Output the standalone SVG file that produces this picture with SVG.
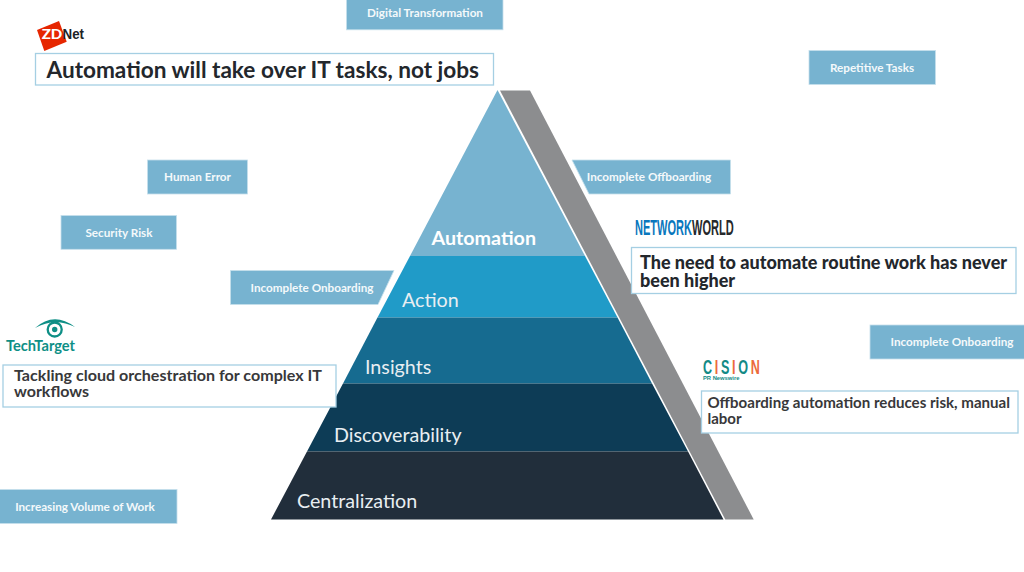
<svg xmlns="http://www.w3.org/2000/svg" width="1024" height="572" viewBox="0 0 1024 572">
<style>
.tag{fill:#77b3d0;stroke:#c5dfeb;stroke-width:.8}
.tagt{font-family:"Lato","Liberation Sans",sans-serif;font-weight:700;font-size:11.7px;fill:#f4f9fb;text-anchor:middle}
.box{fill:#fff;stroke:#a5cfe3;stroke-width:1.3}
.head{font-family:"Lato","Liberation Sans",sans-serif;font-weight:700;fill:#23272c}
.lvl{font-family:"Lato","Liberation Sans",sans-serif;font-size:19.7px;fill:#e8eef2}
</style>
<rect width="1024" height="572" fill="#fff"/>
<g id="pyramid">
<polygon points="500,90.5 530,90.5 753.7,519.5 725.3,519.5" fill="#8c8d8f"/>
<g id="level-automation"><polygon points="497.5,90 585,256 410,256" fill="#77b3d0"/><text x="431.5" y="245" class="lvl" style="font-weight:700;fill:#fff">Automation</text></g>
<g id="level-action"><polygon points="410,256 585,256 617.5,317.5 377.5,317.5" fill="#209bc8"/><text x="402" y="307" class="lvl">Action</text></g>
<g id="level-insights"><polygon points="377.5,317.5 617.5,317.5 652,383.5 343,383.5" fill="#166b90"/><text x="365" y="374.3" class="lvl">Insights</text></g>
<g id="level-discoverability"><polygon points="343,383.5 652,383.5 688,451.5 307,451.5" fill="#0d3c56"/><text x="334" y="442.3" class="lvl">Discoverability</text></g>
<g id="level-centralization"><polygon points="307,451.5 688,451.5 723.5,519.5 271,519.5" fill="#212e3b"/><text x="297" y="507.7" class="lvl">Centralization</text></g>
</g>
<g id="tag-digital-transformation"><rect class="tag" x="346.5" y="-2" width="156.5" height="31.8"/><text class="tagt" x="425" y="17">Digital Transformation</text></g>
<g id="tag-repetitive-tasks"><rect class="tag" x="809" y="50.5" width="126.5" height="34"/><text class="tagt" x="872" y="71.5">Repetitive Tasks</text></g>
<g id="tag-human-error"><rect class="tag" x="147.5" y="160" width="100" height="34"/><text class="tagt" x="197.5" y="181">Human Error</text></g>
<g id="tag-security-risk"><rect class="tag" x="61" y="215.5" width="115.5" height="33.8"/><text class="tagt" x="119" y="236.5">Security Risk</text></g>
<g id="tag-incomplete-onboarding-left"><polygon class="tag" points="230.5,270.5 394,270.5 378,304.5 230.5,304.5"/><text class="tagt" x="312" y="291.5">Incomplete Onboarding</text></g>
<g id="tag-incomplete-offboarding"><polygon class="tag" points="572,160 730.5,160 730.5,194 589,194"/><text class="tagt" x="649" y="181">Incomplete Offboarding</text></g>
<g id="tag-incomplete-onboarding-right"><rect class="tag" x="870" y="325" width="156" height="34"/><text class="tagt" x="952" y="346">Incomplete Onboarding</text></g>
<g id="tag-increasing-volume"><rect class="tag" x="-2" y="489.5" width="179" height="34"/><text class="tagt" x="85" y="510.5">Increasing Volume of Work</text></g>
<g id="card-zdnet">
<polygon points="37,30 59,21 66.7,41.7 44.3,51" fill="#e62600"/>
<text x="41.7" y="39" textLength="20.6" lengthAdjust="spacingAndGlyphs" style="font-family:'Lato',sans-serif;font-weight:900;font-size:14px;fill:#fff">ZD</text>
<text x="62.5" y="39.3" textLength="21.5" lengthAdjust="spacingAndGlyphs" style="font-family:'Liberation Sans',sans-serif;font-weight:700;font-size:15px;fill:#1d2226">Net</text>
<rect class="box" x="35.5" y="53.5" width="458" height="31.5"/>
<text class="head" x="46.5" y="78" textLength="432.5" lengthAdjust="spacingAndGlyphs" style="font-size:22.5px">Automation will take over IT tasks, not jobs</text>
</g>
<g id="card-networkworld">
<text transform="translate(635 235) scale(.502 1)" style="font-family:'Liberation Sans',sans-serif;font-weight:700;font-size:22px"><tspan fill="#0a77bd">NETWORK</tspan><tspan fill="#25282b">WORLD</tspan></text>
<rect class="box" x="631.5" y="247.5" width="384.5" height="46"/>
<text class="head" x="640" y="268.7" style="font-size:18px;font-weight:900">The need to automate routine work has never</text>
<text class="head" x="640" y="286.7" style="font-size:18px;font-weight:900">been higher</text>
</g>
<g id="card-techtarget">
<path d="M35 328 Q54 311 75 327 Q55 317 35 328Z" fill="#0e8f86"/>
<circle cx="54.7" cy="329.5" r="7" fill="none" stroke="#0e8f86" stroke-width="2.3"/>
<circle cx="54.7" cy="329.5" r="2.7" fill="#0e8f86"/>
<text x="6" y="351" textLength="69" lengthAdjust="spacingAndGlyphs" style="font-family:'Lato',sans-serif;font-weight:700;font-size:15.5px;fill:#0e8f86">TechTarget</text>
<rect class="box" x="3" y="365" width="333" height="42"/>
<text class="head" x="14" y="380.7" textLength="308" lengthAdjust="spacingAndGlyphs" style="font-size:16px;fill:#38383a">Tackling cloud orchestration for complex IT</text>
<text class="head" x="14" y="397.3" style="font-size:16px;fill:#38383a">workflows</text>
</g>
<g id="card-cision">
<text transform="translate(703 373.5) scale(.6 1)" style="font-family:'Liberation Sans',sans-serif;font-weight:700;font-size:21px;letter-spacing:4.5px"><tspan fill="#138a86">C</tspan><tspan fill="#ec6a3c">I</tspan><tspan fill="#138a86">S</tspan><tspan fill="#ec6a3c">I</tspan><tspan fill="#138a86">O</tspan><tspan fill="#ec6a3c">N</tspan></text>
<text x="703" y="379.5" style="font-family:'Liberation Sans',sans-serif;font-weight:700;font-size:5.8px;fill:#138a86">PR Newswire</text>
<rect class="box" x="701.5" y="391" width="316.5" height="42"/>
<text class="head" x="707.5" y="408" textLength="302.5" lengthAdjust="spacingAndGlyphs" style="font-size:15px;fill:#38383a">Offboarding automation reduces risk, manual</text>
<text class="head" x="707.5" y="424" style="font-size:15px;fill:#38383a">labor</text>
</g>
</svg>
